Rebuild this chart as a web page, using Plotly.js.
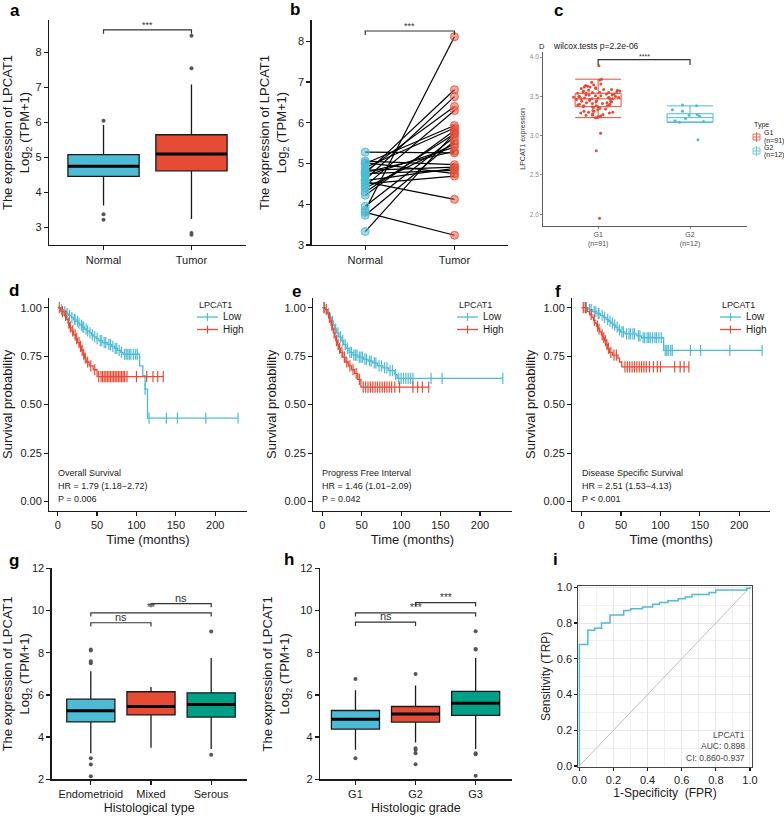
<!DOCTYPE html>
<html>
<head>
<meta charset="utf-8">
<script src="https://cdn.plot.ly/plotly-3.0.1.min.js"></script>
<style>
  body { margin: 0; background: #fff; }
  #chart { width: 784px; height: 816px; }
</style>
</head>
<body>
<div id="chart"></div>
<script>
const W = 784, H = 816;
const BLUE = "#4DBBD5", RED = "#E64B35", GREEN = "#00A087";
const INK = "#1a1a1a";
const FONT = "Liberation Sans, Arial, sans-serif";

// ---- a: normal vs tumor (box stats)
const aGroups = ["Normal", "Tumor"];
const aQ1 = [4.46, 4.62];
const aMed = [4.75, 5.10];
const aQ3 = [5.08, 5.65];
const aLow = [3.63, 3.24];
const aHigh = [5.93, 7.09];
const aOutX = [0, 0, 0, 1, 1, 1, 1];
const aOutY = [6.05, 3.38, 3.22, 8.48, 7.55, 2.84, 2.79];

// ---- b: paired samples
const bNormal = [3.85, 3.80, 3.33, 5.28, 4.55, 4.75, 4.60, 4.80, 4.45, 5.00, 4.90, 4.22,
                 3.95, 4.30, 5.06, 4.83, 4.75, 5.02, 4.50, 4.40, 4.70, 3.73, 4.78, 4.58];
const bTumor  = [8.11, 3.24, 5.75, 5.26, 4.12, 6.81, 6.64, 6.40, 6.30, 5.93, 5.87, 5.81,
                 5.65, 5.73, 4.97, 4.91, 4.83, 4.75, 4.69, 5.48, 5.40, 5.55, 5.30, 4.88];

// ---- c: G1 / G2
const cGroups = ["G1<br>(n=91)", "G2<br>(n=12)"];
const cQ1 = [3.37, 3.175];
const cMed = [3.47, 3.23];
const cQ3 = [3.54, 3.28];
const cLow = [3.23, 3.17];
const cHigh = [3.72, 3.38];
const cG1 = [3.89, 3.03, 2.81, 1.95,
  3.72, 3.71, 3.68, 3.66, 3.65, 3.64, 3.63, 3.62, 3.62, 3.61, 3.60, 3.60, 3.59, 3.59, 3.58, 3.58, 3.57, 3.57, 3.56, 3.56, 3.55, 3.55, 3.55,
  3.54, 3.54, 3.53, 3.53, 3.52, 3.52, 3.52, 3.51, 3.51, 3.50, 3.50, 3.50, 3.49, 3.49, 3.49, 3.48, 3.48, 3.48, 3.47, 3.47, 3.47, 3.47,
  3.46, 3.46, 3.45, 3.45, 3.44, 3.44, 3.43, 3.43, 3.42, 3.42, 3.41, 3.41, 3.40, 3.40, 3.39, 3.39, 3.38, 3.38, 3.38, 3.37, 3.37, 3.37,
  3.36, 3.35, 3.34, 3.33, 3.32, 3.31, 3.31, 3.30, 3.30, 3.29, 3.28, 3.27, 3.26, 3.25, 3.24, 3.23, 3.23, 3.24, 3.26, 3.29];
const cG2 = [3.39, 3.38, 3.33, 3.31, 3.27, 3.26, 3.25, 3.22, 3.19, 3.18, 3.17, 2.95];

// ---- d/e/f: Kaplan-Meier (step times / survival, censor times)
const dLowT = [0, 3, 7, 11, 14, 17, 20, 23, 26, 28, 31, 34, 37, 40, 43, 46, 49, 52, 57, 63, 68, 72, 76, 80, 83, 104, 108, 111, 114];
const dLowS = [1, .99, .98, .97, .96, .95, .94, .93, .92, .91, .90, .89, .88, .87, .86, .85, .84, .83, .82, .81, .80, .79, .78, .77, .76, .70, .65, .58, .43];
const dLowC = [5, 9, 12, 15, 18, 21, 22, 25, 27, 30, 32, 33, 36, 38, 41, 44, 47, 50, 54, 56, 59, 61, 65, 67, 70, 73, 75, 78, 81, 85, 87, 89, 91, 93, 96, 99, 101, 111, 116, 138, 152, 188, 229];
const dHighT = [0, 4, 8, 11, 13, 15, 17, 20, 23, 25, 28, 30, 32, 34, 36, 40, 45, 50];
const dHighS = [1, .98, .96, .94, .92, .90, .88, .86, .84, .82, .80, .78, .76, .74, .72, .70, .68, .645];
const dHighC = [2, 6, 10, 14, 16, 19, 22, 24, 27, 29, 31, 33, 35, 38, 42, 47, 52, 55, 57, 59, 61, 63, 65, 67, 69, 71, 73, 75, 77, 79, 81, 83, 85, 88, 100, 113, 121, 127, 134];

const eLowT = [0, 4, 7, 10, 12, 14, 16, 18, 21, 24, 27, 30, 34, 39, 45, 52, 58, 64, 70, 77, 84, 92, 95];
const eLowS = [1, .99, .97, .95, .93, .91, .89, .87, .85, .83, .81, .79, .77, .755, .745, .735, .725, .715, .70, .69, .675, .655, .635];
const eLowC = [3, 8, 13, 17, 20, 23, 26, 29, 32, 35, 37, 40, 42, 44, 47, 49, 51, 54, 56, 60, 62, 66, 68, 72, 75, 79, 82, 86, 89, 93, 97, 100, 103, 106, 109, 112, 115, 138, 152, 229];
const eHighT = [0, 3, 6, 8, 10, 11, 13, 14, 16, 17, 19, 21, 23, 26, 29, 33, 37, 41, 45, 49];
const eHighS = [1, .99, .97, .95, .93, .91, .89, .87, .85, .83, .81, .79, .77, .745, .72, .70, .68, .66, .63, .59];
const eHighC = [2, 5, 9, 12, 15, 18, 20, 22, 25, 28, 31, 35, 39, 43, 47, 52, 55, 58, 61, 64, 67, 70, 73, 76, 79, 82, 85, 88, 92, 98, 115, 121, 127, 135];

const fLowT = [0, 8, 14, 19, 24, 28, 31, 34, 37, 40, 43, 46, 49, 55, 70, 76, 104];
const fLowS = [1, .99, .98, .97, .96, .95, .94, .93, .92, .91, .90, .885, .875, .865, .855, .845, .78];
const fLowC = [3, 6, 10, 12, 16, 18, 21, 22, 26, 29, 33, 36, 39, 42, 45, 48, 51, 53, 57, 60, 62, 65, 67, 72, 74, 78, 80, 83, 85, 87, 90, 93, 95, 98, 101, 106, 108, 110, 113, 115, 138, 151, 188, 229];
const fHighT = [0, 7, 10, 13, 15, 17, 19, 21, 23, 25, 27, 29, 31, 33, 35, 39, 46, 48, 51];
const fHighS = [1, .98, .965, .95, .935, .92, .905, .89, .875, .86, .845, .83, .81, .79, .77, .755, .74, .72, .695];
const fHighC = [2, 5, 12, 16, 20, 22, 26, 28, 30, 32, 34, 37, 41, 44, 55, 58, 61, 64, 67, 70, 73, 76, 79, 82, 86, 91, 96, 100, 118, 125, 130, 136];

const kmNotes = {
  d: ["Overall Survival", "HR = 1.79 (1.18\u22122.72)", "P = 0.006"],
  e: ["Progress Free Interval", "HR = 1.46 (1.01\u22122.09)", "P = 0.042"],
  f: ["Disease Specific Survival", "HR = 2.51 (1.53\u22124.13)", "P < 0.001"]
};

// ---- g: histological type
const gGroups = ["Endometrioid", "Mixed", "Serous"];
const gQ1 = [4.72, 5.05, 4.95];
const gMed = [5.25, 5.45, 5.55];
const gQ3 = [5.80, 6.15, 6.10];
const gLow = [3.24, 3.50, 3.44];
const gHigh = [7.12, 6.37, 7.75];
const gOutX = [0, 0, 0, 0, 0, 0, 0, 2, 2];
const gOutY = [8.15, 8.10, 7.60, 7.50, 3.00, 2.70, 2.15, 9.00, 3.16];

// ---- h: histologic grade
const hGroups = ["G1", "G2", "G3"];
const hQ1 = [4.38, 4.71, 5.03];
const hMed = [4.85, 5.09, 5.60];
const hQ3 = [5.26, 5.45, 6.17];
const hLow = [3.40, 3.74, 3.44];
const hHigh = [6.22, 6.44, 7.75];
const hOutX = [0, 0, 1, 1, 1, 1, 1, 2, 2, 2, 2, 2, 2];
const hOutY = [6.75, 3.00, 6.99, 3.47, 3.39, 3.24, 2.71, 9.02, 8.18, 8.15, 3.24, 3.19, 2.17];

// ---- i: ROC corners (FPR, TPR)
const rocFpr = [0, 0, 0.05, 0.09, 0.13, 0.18, 0.26, 0.30, 0.37, 0.43, 0.47, 0.52, 0.58, 0.62, 0.66, 0.76, 0.80, 0.98, 1.0];
const rocTpr = [0, 0.68, 0.76, 0.77, 0.80, 0.845, 0.87, 0.88, 0.89, 0.905, 0.915, 0.925, 0.935, 0.945, 0.96, 0.97, 0.985, 0.995, 1.0];

// significance brackets
const sigA = [{ from: 0, to: 1, y: 8.65, drop: 0.11, label: "***" }];
const sigB = [{ from: 0, to: 1, y: 8.25, drop: 0.10, label: "***" }];
const sigC = [{ from: 0, to: 1, y: 3.97, drop: 0.07, label: "****" }];
const sigG = [{ from: 0, to: 1, y: 9.42, drop: 0.18, label: "ns" },
              { from: 0, to: 2, y: 9.89, drop: 0.18, label: "**" },
              { from: 1, to: 2, y: 10.33, drop: 0.18, label: "ns" }];
const sigH = [{ from: 0, to: 1, y: 9.45, drop: 0.18, label: "ns" },
              { from: 0, to: 2, y: 9.89, drop: 0.18, label: "***" },
              { from: 1, to: 2, y: 10.37, drop: 0.18, label: "***" }];

// ------------------------------------------------------------------
const px = x => x / W;
const py = y => 1 - y / H;
const traces = [];
const shapes = [];
const annotations = [];

function boxSet(ax, q1, med, q3, lo, hi, colors, width) {
  q1.forEach((_, i) => {
    traces.push({
      type: "box", x: [i], q1: [q1[i]], median: [med[i]], q3: [q3[i]],
      lowerfence: [lo[i]], upperfence: [hi[i]], width: width, whiskerwidth: 0,
      boxpoints: false, fillcolor: colors[i], line: { color: INK, width: 1.3 },
      xaxis: "x" + ax, yaxis: "y" + ax, hoverinfo: "skip", showlegend: false
    });
    // ggplot draws the median thicker
    traces.push({
      type: "scatter", mode: "lines", x: [i - width / 2, i + width / 2], y: [med[i], med[i]],
      line: { color: "#000", width: 3 }, xaxis: "x" + ax, yaxis: "y" + ax, hoverinfo: "skip", showlegend: false
    });
  });
}

function outliers(ax, xs, ys) {
  traces.push({
    type: "scatter", mode: "markers", x: xs, y: ys,
    marker: { color: "#555", size: 4 }, xaxis: "x" + ax, yaxis: "y" + ax, hoverinfo: "skip", showlegend: false
  });
}

function brackets(ax, list, fontSize) {
  const bx = [], by = [];
  list.forEach(b => {
    bx.push(b.from, b.from, b.to, b.to, null);
    by.push(b.y - b.drop, b.y, b.y, b.y - b.drop, null);
    annotations.push({
      xref: "x" + ax, yref: "y" + ax, x: (b.from + b.to) / 2, y: b.y, text: b.label, showarrow: false,
      yanchor: "bottom", yshift: -2, font: { size: b.label === "ns" ? fontSize + 1 : fontSize, color: "#333" }
    });
  });
  traces.push({ type: "scatter", mode: "lines", x: bx, y: by, line: { color: "#333", width: 1.2 },
    xaxis: "x" + ax, yaxis: "y" + ax, hoverinfo: "skip", showlegend: false });
}

function survAt(T, S, t) {
  let s = S[0];
  for (let k = 0; k < T.length; k++) if (T[k] <= t) s = S[k];
  return s;
}

function km(ax, T, S, C, color) {
  const last = C[C.length - 1];
  traces.push({
    type: "scatter", mode: "lines", x: T.concat([last]), y: S.concat([S[S.length - 1]]),
    line: { shape: "hv", color: color, width: 1.3 }, xaxis: "x" + ax, yaxis: "y" + ax, hoverinfo: "skip", showlegend: false
  });
  traces.push({
    type: "scatter", mode: "markers", x: C, y: C.map(t => survAt(T, S, t)),
    marker: { symbol: "line-ns-open", size: 8, color: color, line: { color: color, width: 1.2 } },
    xaxis: "x" + ax, yaxis: "y" + ax, hoverinfo: "skip", showlegend: false
  });
}

function kmLegend(x0, y0) {
  annotations.push({ xref: "paper", yref: "paper", x: px(x0), y: py(y0), text: "LPCAT1", showarrow: false,
    xanchor: "left", yanchor: "middle", font: { size: 9, color: INK } });
  [["Low", BLUE], ["High", RED]].forEach((it, k) => {
    const yy = y0 + 12 + k * 12.5;
    shapes.push({ type: "line", xref: "paper", yref: "paper", x0: px(x0), x1: px(x0 + 21), y0: py(yy), y1: py(yy),
      line: { color: it[1], width: 1.3 } });
    shapes.push({ type: "line", xref: "paper", yref: "paper", x0: px(x0 + 10.5), x1: px(x0 + 10.5), y0: py(yy - 4), y1: py(yy + 4),
      line: { color: it[1], width: 1.2 } });
    annotations.push({ xref: "paper", yref: "paper", x: px(x0 + 24), y: py(yy), text: it[0], showarrow: false,
      xanchor: "left", yanchor: "middle", font: { size: 10, color: INK } });
  });
}

function kmNote(ax, lines) {
  lines.forEach((t, k) => {
    annotations.push({ xref: "x" + ax, yref: "y" + ax, x: 0, y: 0.149 - k * 0.068, text: t, showarrow: false,
      xanchor: "left", yanchor: "middle", xshift: -2, font: { size: 9, color: INK } });
  });
}

// a
boxSet("", aQ1, aMed, aQ3, aLow, aHigh, [BLUE, RED], 0.81);
outliers("", aOutX, aOutY);
brackets("", sigA, 9);

// b
const bx = [], by = [];
bNormal.forEach((v, i) => { bx.push(0, 1, null); by.push(v, bTumor[i], null); });
traces.push({ type: "scatter", mode: "lines", x: bx, y: by, line: { color: "#000", width: 1.2 },
  xaxis: "x2", yaxis: "y2", hoverinfo: "skip", showlegend: false });
traces.push({ type: "scatter", mode: "markers", x: bNormal.map(() => 0), y: bNormal,
  marker: { size: 8, color: "rgba(77,187,213,0.55)", line: { color: "rgba(77,187,213,0.9)", width: 1 } },
  xaxis: "x2", yaxis: "y2", hoverinfo: "skip", showlegend: false });
traces.push({ type: "scatter", mode: "markers", x: bTumor.map(() => 1), y: bTumor,
  marker: { size: 8, color: "rgba(230,75,53,0.5)", line: { color: "rgba(230,75,53,0.85)", width: 1 } },
  xaxis: "x2", yaxis: "y2", hoverinfo: "skip", showlegend: false });
brackets("2", sigB, 9);

// c
[[cG1, RED], [cG2, BLUE]].forEach((g, i) => {
  traces.push({
    type: "box", x: [i], q1: [cQ1[i]], median: [cMed[i]], q3: [cQ3[i]], lowerfence: [cLow[i]], upperfence: [cHigh[i]],
    width: 0.5, whiskerwidth: 1, boxpoints: false, fillcolor: "rgba(255,255,255,0)",
    line: { color: g[1], width: 1 }, xaxis: "x3", yaxis: "y3", hoverinfo: "skip", showlegend: false
  });
  traces.push({
    type: "box", x: g[0].map(() => i), y: g[0], width: 0.55, boxpoints: "all", jitter: 1, pointpos: 0,
    fillcolor: "rgba(0,0,0,0)", line: { color: "rgba(0,0,0,0)", width: 0 },
    marker: { size: 3, color: g[1] }, xaxis: "x3", yaxis: "y3", hoverinfo: "skip", showlegend: false
  });
});
brackets("3", sigC, 7);

// d e f
km("4", dLowT, dLowS, dLowC, BLUE); km("4", dHighT, dHighS, dHighC, RED);
km("5", eLowT, eLowS, eLowC, BLUE); km("5", eHighT, eHighS, eHighC, RED);
km("6", fLowT, fLowS, fLowC, BLUE); km("6", fHighT, fHighS, fHighC, RED);
kmNote("4", kmNotes.d); kmNote("5", kmNotes.e); kmNote("6", kmNotes.f);
kmLegend(197, 305); kmLegend(457, 305); kmLegend(720, 305);

// g h
boxSet("7", gQ1, gMed, gQ3, gLow, gHigh, [BLUE, RED, GREEN], 0.8);
outliers("7", gOutX, gOutY);
brackets("7", sigG, 10);
boxSet("8", hQ1, hMed, hQ3, hLow, hHigh, [BLUE, RED, GREEN], 0.8);
outliers("8", hOutX, hOutY);
brackets("8", sigH, 10);

// i
traces.push({ type: "scatter", mode: "lines", x: [0, 1], y: [0, 1], line: { color: "#BDBDBD", width: 1 },
  xaxis: "x9", yaxis: "y9", hoverinfo: "skip", showlegend: false });
traces.push({ type: "scatter", mode: "lines", x: rocFpr, y: rocTpr, line: { shape: "hv", color: BLUE, width: 1.5 },
  xaxis: "x9", yaxis: "y9", hoverinfo: "skip", showlegend: false });
["LPCAT1", "AUC: 0.898", "CI: 0.860-0.937"].forEach((t, k) => {
  annotations.push({ xref: "paper", yref: "paper", x: px(747), y: py(735 + k * 11.3), text: t, showarrow: false,
    xanchor: "right", yanchor: "middle", font: { size: 8.5, color: "#444" } });
});

// c title + legend
annotations.push({ xref: "paper", yref: "paper", x: px(542), y: py(46), text: "D", showarrow: false,
  xanchor: "center", yanchor: "middle", font: { size: 7.5, color: INK } });
annotations.push({ xref: "paper", yref: "paper", x: px(551), y: py(46), text: "wilcox.tests p=2.2e-06", showarrow: false,
  xanchor: "left", yanchor: "middle", font: { size: 8.5, color: INK } });
annotations.push({ xref: "paper", yref: "paper", x: px(752), y: py(125), text: "Type", showarrow: false,
  xanchor: "left", yanchor: "middle", font: { size: 7, color: INK } });
[["G1", "(n=91)", RED], ["G2", "(n=12)", BLUE]].forEach((it, k) => {
  const yc = 137 + k * 14;
  shapes.push({ type: "rect", xref: "paper", yref: "paper", x0: px(753), x1: px(760), y0: py(yc - 3), y1: py(yc + 3),
    line: { color: it[2], width: 0.8 } });
  shapes.push({ type: "line", xref: "paper", yref: "paper", x0: px(753), x1: px(760), y0: py(yc), y1: py(yc),
    line: { color: it[2], width: 0.8 } });
  shapes.push({ type: "line", xref: "paper", yref: "paper", x0: px(756.5), x1: px(756.5), y0: py(yc - 5), y1: py(yc + 5),
    line: { color: it[2], width: 0.8 } });
  annotations.push({ xref: "paper", yref: "paper", x: px(762), y: py(yc - 4), text: it[0], showarrow: false,
    xanchor: "left", yanchor: "middle", font: { size: 7, color: INK } });
  annotations.push({ xref: "paper", yref: "paper", x: px(762), y: py(yc + 4), text: it[1], showarrow: false,
    xanchor: "left", yanchor: "middle", font: { size: 7, color: INK } });
});

// panel letters
[["a", 15, 11], ["b", 295, 10], ["c", 558, 11], ["d", 14, 290], ["e", 296, 291], ["f", 558, 291],
 ["g", 14, 560], ["h", 289, 559], ["i", 555, 559]].forEach(l => {
  annotations.push({ xref: "paper", yref: "paper", x: px(l[1]), y: py(l[2]), text: "<b>" + l[0] + "</b>", showarrow: false,
    xanchor: "center", yanchor: "middle", font: { size: 17, color: "#000" } });
});

// axes
function axBase(extra) {
  return Object.assign({
    showline: true, linecolor: INK, linewidth: 1.3, ticks: "outside", ticklen: 4, tickwidth: 1.2, tickcolor: INK,
    showgrid: false, zeroline: false, tickfont: { size: 11, color: INK }, fixedrange: true
  }, extra);
}
const exprTitle = "The expression of LPCAT1<br>Log<sub>2</sub> (TPM+1)";
const titleFont = { size: 13, color: INK };

const layout = {
  width: W, height: H, margin: { l: 0, r: 0, t: 0, b: 0 }, paper_bgcolor: "#fff", plot_bgcolor: "rgba(0,0,0,0)",
  font: { family: FONT, color: INK }, showlegend: false,
  shapes: shapes, annotations: annotations,

  xaxis: axBase({ domain: [px(49), px(246)], anchor: "y", range: [-0.62, 1.62], tickvals: [0, 1], ticktext: aGroups }),
  yaxis: axBase({ domain: [py(245), py(20)], anchor: "x", range: [2.5, 8.93], dtick: 1,
    title: { text: exprTitle, font: titleFont, standoff: 6 } }),

  xaxis2: axBase({ domain: [px(311.7), px(508)], anchor: "y2", range: [-0.6, 1.6], tickvals: [0, 1], ticktext: aGroups }),
  yaxis2: axBase({ domain: [py(245), py(20)], anchor: "x2", range: [3, 8.52], dtick: 1,
    title: { text: exprTitle, font: titleFont, standoff: 8 } }),

  xaxis3: axBase({ domain: [px(543), px(747)], anchor: "y3", range: [-0.6, 1.62], tickvals: [0, 1], ticktext: cGroups,
    linecolor: "#333", linewidth: 0.8, tickcolor: "#333", tickwidth: 0.6, ticklen: 2, tickfont: { size: 7, color: "#4d4d4d" } }),
  yaxis3: axBase({ domain: [py(226), py(51.7)], anchor: "x3", range: [1.85, 4.07], tickvals: [2, 2.5, 3, 3.5, 4], tickformat: ".1f",
    linecolor: "#333", linewidth: 0.8, tickcolor: "#333", tickwidth: 0.6, ticklen: 2, tickfont: { size: 6.5, color: "#888" },
    title: { text: "LPCAT1 expression", font: { size: 7, color: "#333" }, standoff: 3 } }),

  xaxis9: axBase({ domain: [px(578.3), px(751.7)], anchor: "y9", range: [-0.006, 1.01], dtick: 0.2, tickformat: ".1f",
    showgrid: true, gridcolor: "#E6E6E6", mirror: true, linecolor: "#444", linewidth: 1, ticklen: 3,
    minor: { dtick: 0.1, showgrid: true, gridcolor: "#F0F0F0" },
    title: { text: "1-Specificity  (FPR)", font: { size: 12, color: INK }, standoff: 3 } }),
  yaxis9: axBase({ domain: [py(766.7), py(586)], anchor: "x9", range: [-0.004, 1.007], dtick: 0.2, tickformat: ".1f",
    showgrid: true, gridcolor: "#E6E6E6", mirror: true, linecolor: "#444", linewidth: 1, ticklen: 3,
    minor: { dtick: 0.1, showgrid: true, gridcolor: "#F0F0F0" },
    title: { text: "Sensitivity (TRP)", font: { size: 12, color: INK }, standoff: 3 } })
};

[["4", 49.3, 246.7, -10.7, 240], ["5", 313.3, 511.7, -11.4, 240.3], ["6", 572.3, 770, -11.9, 239]].forEach(p => {
  layout["xaxis" + p[0]] = axBase({ domain: [px(p[1]), px(p[2])], anchor: "y" + p[0], range: [p[3], p[4]],
    tickvals: [0, 50, 100, 150, 200], title: { text: "Time (months)", font: { size: 13, color: INK }, standoff: 4 } });
  layout["yaxis" + p[0]] = axBase({ domain: [py(510.7), py(298)], anchor: "x" + p[0], range: [-0.047, 1.05],
    tickvals: [0, 0.25, 0.5, 0.75, 1], tickformat: ".2f",
    title: { text: "Survival probability", font: { size: 13, color: INK }, standoff: 4 } });
});

[["7", 51.7, 246.7, [-0.65, 2.59], gGroups, "Histological type"], ["8", 320, 511.7, [-0.59, 2.6], hGroups, "Histologic grade"]].forEach(p => {
  layout["xaxis" + p[0]] = axBase({ domain: [px(p[1]), px(p[2])], anchor: "y" + p[0], range: p[3],
    tickvals: [0, 1, 2], ticktext: p[4], title: { text: p[5], font: { size: 12.5, color: INK }, standoff: 4 } });
  layout["yaxis" + p[0]] = axBase({ domain: [py(779.3), py(568.3)], anchor: "x" + p[0], range: [2, 12], dtick: 2,
    title: { text: exprTitle, font: titleFont, standoff: 7 } });
});

Plotly.newPlot("chart", traces, layout, { displayModeBar: false, staticPlot: true });
</script>
</body>
</html>
